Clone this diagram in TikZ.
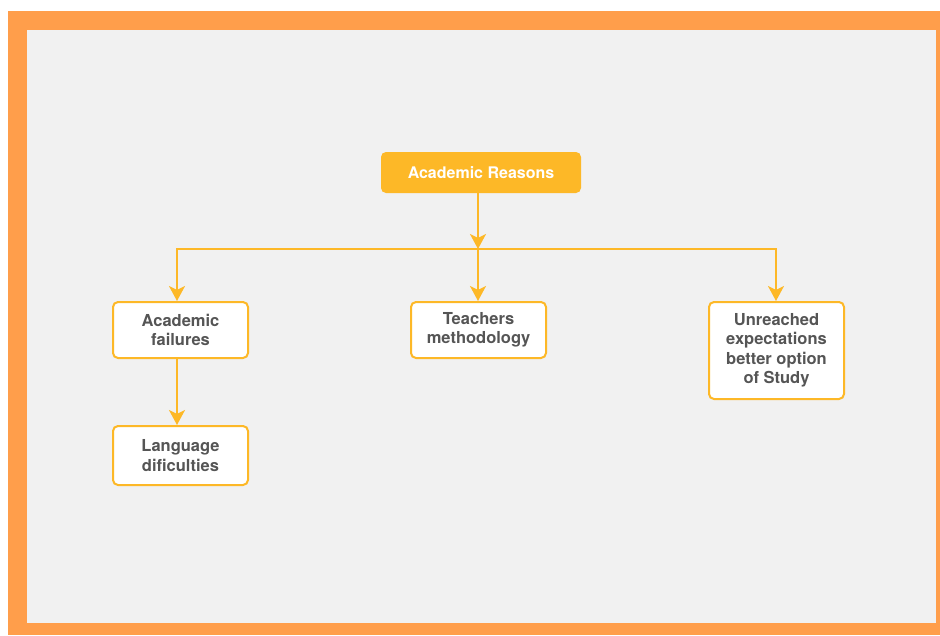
\documentclass[tikz,border=0pt]{standalone}
\usepackage{fontspec}
\setmainfont{TeX Gyre Heros}
\usetikzlibrary{arrows.meta}

\definecolor{frameorange}{HTML}{FF9E4B}
\definecolor{bggrey}{HTML}{F1F1F1}
\definecolor{boxyellow}{HTML}{FDB827}
\definecolor{textgrey}{HTML}{555555}

\tikzset{
  reason/.style={draw=boxyellow, line width=2pt, fill=white, rounded corners=5pt,
    minimum width=135pt, minimum height=56pt, align=center, text=textgrey,
    font=\fontsize{16.5}{19.5}\selectfont\bfseries},
  rootbox/.style={fill=boxyellow, rounded corners=5pt, minimum width=200pt,
    minimum height=41pt, text=white, font=\fontsize{16}{19.5}\selectfont\bfseries},
  link/.style={draw=boxyellow, line width=2pt, line cap=rect},
  arrow/.style={link, -{Stealth[length=15pt, width=16pt, inset=4pt]}}
}

\begin{document}
\begin{tikzpicture}[x=1pt, y=-1pt]
    \useasboundingbox (0,0) rectangle (940,635);

    % Draw frame and background
    \fill[white] (0,0) rectangle (940,635);
    \fill[frameorange] (8,11) rectangle (940,635);
    \fill[bggrey] (27,30) rectangle (936,623);

    % Nodes
    \node[rootbox] (root) at (481,172.5) {Academic Reasons};
    \node[reason] (fail) at (180.5,330) {Academic\\failures};
    \node[reason] (teach) at (478.5,330) {Teachers\\methodology};
    \node[reason, minimum height=97pt] (unreach) at (776.5,350.5) {Unreached\\expectations\\better option\\of Study};
    \node[reason, minimum height=59pt] (lang) at (180.5,455.5) {Language\\dificulties};

    % Branch line
    \coordinate (bar) at (478,249);
    \coordinate (barleft) at (177,249);
    \coordinate (barright) at (776,249);
    \draw[arrow] (root.south -| bar) -- (bar);
    \draw[link] (barleft) -- (barright);

    % Draw arrows down to the boxes
    \foreach \c/\n in {barleft/fail, bar/teach, barright/unreach} {
      \draw[arrow] (\c) -- (\c |- \n.north);
    }
    \draw[arrow] (fail.south -| barleft) -- (lang.north -| barleft);
\end{tikzpicture}
\end{document}
